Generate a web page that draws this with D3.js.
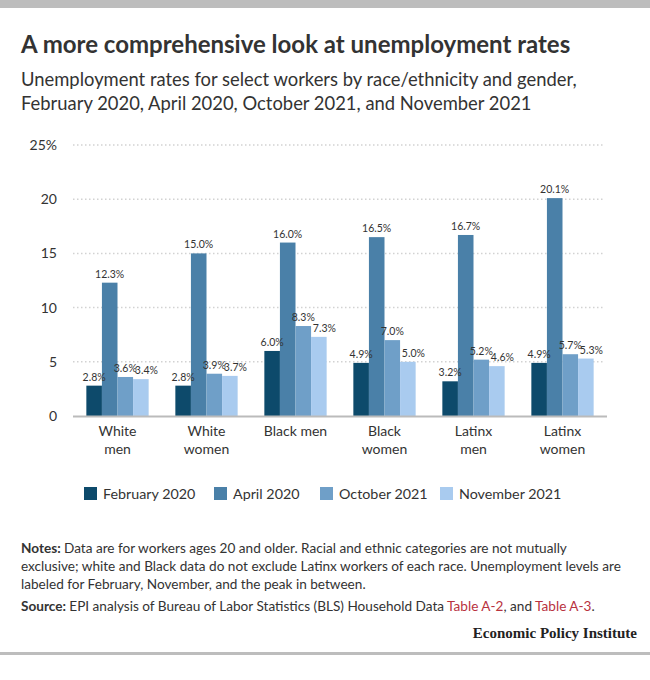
<!DOCTYPE html>
<html>
<head>
<meta charset="utf-8">
<script src="https://cdn.jsdelivr.net/npm/d3@7"></script>
<style>
  body { margin: 0; background: #fff; }
  svg { display: block; font-family: Lato, "Open Sans", sans-serif; }
</style>
</head>
<body>
<script>
// chart data
var groups = ['White men', 'White women', 'Black men', 'Black women', 'Latinx men', 'Latinx women'];
var groupLines = [['White', 'men'], ['White', 'women'], ['Black men'], ['Black', 'women'], ['Latinx', 'men'], ['Latinx', 'women']];
var seriesNames = ['February 2020', 'April 2020', 'October 2021', 'November 2021'];
var feb2020 = [2.8, 2.8, 6.0, 4.9, 3.2, 4.9];
var apr2020 = [12.3, 15.0, 16.0, 16.5, 16.7, 20.1];
var oct2021 = [3.6, 3.9, 8.3, 7.0, 5.2, 5.7];
var nov2021 = [3.4, 3.7, 7.3, 5.0, 4.6, 5.3];
var yTicks = [0, 5, 10, 15, 20, 25];
var colors = ['#0d4a6b', '#4a80a8', '#6f9fc8', '#a9cbef'];

var series = [feb2020, apr2020, oct2021, nov2021];

var width = 650, height = 680;

var svg = d3.select('body').append('svg')
  .attr('width', width).attr('height', height);

// top and bottom grey rules
svg.append('rect').attr('x', 0).attr('y', 0).attr('width', width).attr('height', 8).attr('fill', '#bdbdbd');
svg.append('rect').attr('x', 0).attr('y', 652).attr('width', width).attr('height', 3).attr('fill', '#bdbdbd');

// title + subtitle
svg.append('text').attr('x', 21).attr('y', 53)
  .attr('font-size', 24).attr('font-weight', 700).attr('fill', '#333')
  .text('A more comprehensive look at unemployment rates');
svg.append('text').attr('x', 21).attr('y', 86)
  .attr('font-size', 18.4).attr('fill', '#333')
  .text('Unemployment rates for select workers by race/ethnicity and gender,');
svg.append('text').attr('x', 21).attr('y', 110)
  .attr('font-size', 18.4).attr('fill', '#333')
  .text('February 2020, April 2020, October 2021, and November 2021');

// scales
var x0 = d3.scaleBand().domain(groups).range([73, 607]).paddingInner(0.3).paddingOuter(0.15);
var x1 = d3.scaleBand().domain(d3.range(seriesNames.length)).range([0, x0.bandwidth()]);
var y = d3.scaleLinear().domain([0, 25]).range([416, 145]);

// gridlines
svg.append('g').selectAll('line')
  .data(yTicks.filter(function(d) { return d > 0; }))
  .enter().append('line')
  .attr('x1', 73).attr('x2', 605)
  .attr('y1', function(d) { return y(d); })
  .attr('y2', function(d) { return y(d); })
  .attr('stroke', '#d2d2d2').attr('stroke-width', 1.5)
  .attr('stroke-dasharray', '1.5,2.5');

// y axis labels
var yAxis = d3.axisLeft(y).tickValues(yTicks).tickSize(0).tickPadding(0)
  .tickFormat(function(d) { return d === 25 ? d + '%' : d; });
var yg = svg.append('g').attr('transform', 'translate(57,0)').call(yAxis);
yg.select('.domain').remove();
yg.selectAll('text').attr('font-size', 14).attr('fill', '#333')
  .attr('font-family', 'Lato, "Open Sans", sans-serif');

// bars
var groupG = svg.append('g').selectAll('g')
  .data(groups).enter().append('g')
  .attr('transform', function(d) { return 'translate(' + x0(d) + ',0)'; });

groupG.selectAll('rect')
  .data(function(d, gi) { return series.map(function(s, si) { return { si: si, v: s[gi] }; }); })
  .enter().append('rect')
  .attr('x', function(d) { return x1(d.si); })
  .attr('width', x1.bandwidth())
  .attr('y', function(d) { return y(d.v); })
  .attr('height', function(d) { return y(0) - y(d.v); })
  .attr('fill', function(d) { return colors[d.si]; });

// value labels; the November ones sit a little right so they don't run into October's
groupG.selectAll('text.val')
  .data(function(d, gi) { return series.map(function(s, si) { return { si: si, v: s[gi] }; }); })
  .enter().append('text').attr('class', 'val')
  .attr('x', function(d) { return x1(d.si) + x1.bandwidth() / 2 + (d.si === 3 ? 5.5 : 0); })
  .attr('y', function(d) { return y(d.v) - 5; })
  .attr('text-anchor', 'middle')
  .attr('font-size', 10.5).attr('fill', '#333')
  .text(function(d) { return d.v.toFixed(1) + '%'; });

// baseline
svg.append('line').attr('x1', 73).attr('x2', 607)
  .attr('y1', y(0) + 0.5).attr('y2', y(0) + 0.5)
  .attr('stroke', '#bbb').attr('stroke-width', 2);

// x axis labels
var xl = svg.append('g').selectAll('text')
  .data(groups).enter().append('text')
  .attr('text-anchor', 'middle')
  .attr('font-size', 14).attr('fill', '#333')
  .attr('x', function(d) { return x0(d) + x0.bandwidth() / 2; })
  .attr('y', 436);
xl.selectAll('tspan')
  .data(function(d, i) { return groupLines[i]; })
  .enter().append('tspan')
  .attr('x', function() { return d3.select(this.parentNode).attr('x'); })
  .attr('dy', function(d, i) { return i === 0 ? 0 : 18; })
  .text(function(d) { return d; });

// legend
var legendX = [84, 214, 320, 440];
var lg = svg.append('g').selectAll('g')
  .data(seriesNames).enter().append('g')
  .attr('transform', function(d, i) { return 'translate(' + legendX[i] + ',487)'; });
lg.append('rect').attr('width', 13).attr('height', 13)
  .attr('fill', function(d, i) { return colors[i]; });
lg.append('text').attr('x', 19).attr('y', 11.5)
  .attr('font-size', 14.3).attr('fill', '#333')
  .text(function(d) { return d; });

// notes
var notes = [
  [{ b: true, t: 'Notes: ' }, { t: 'Data are for workers ages 20 and older. Racial and ethnic categories are not mutually' }],
  [{ t: 'exclusive; white and Black data do not exclude Latinx workers of each race. Unemployment levels are' }],
  [{ t: 'labeled for February, November, and the peak in between.' }]
];
notes.forEach(function(line, i) {
  var t = svg.append('text').attr('x', 21).attr('y', 553 + i * 18)
    .attr('font-size', 13.6).attr('fill', '#333');
  line.forEach(function(p) {
    t.append('tspan').attr('font-weight', p.b ? 700 : 400).text(p.t);
  });
});

var src = svg.append('text').attr('x', 21).attr('y', 611)
  .attr('font-size', 13.6).attr('fill', '#333');
src.append('tspan').attr('font-weight', 700).text('Source: ');
src.append('tspan').text('EPI analysis of Bureau of Labor Statistics (BLS) Household Data ');
src.append('tspan').attr('fill', '#b8323e').text('Table A-2');
src.append('tspan').text(', and ');
src.append('tspan').attr('fill', '#b8323e').text('Table A-3');
src.append('tspan').text('.');

svg.append('text').attr('x', 637).attr('y', 638)
  .attr('text-anchor', 'end')
  .attr('font-family', '"Liberation Serif", "DejaVu Serif", serif')
  .attr('font-size', 15).attr('font-weight', 700).attr('fill', '#222')
  .text('Economic Policy Institute');
</script>
</body>
</html>
